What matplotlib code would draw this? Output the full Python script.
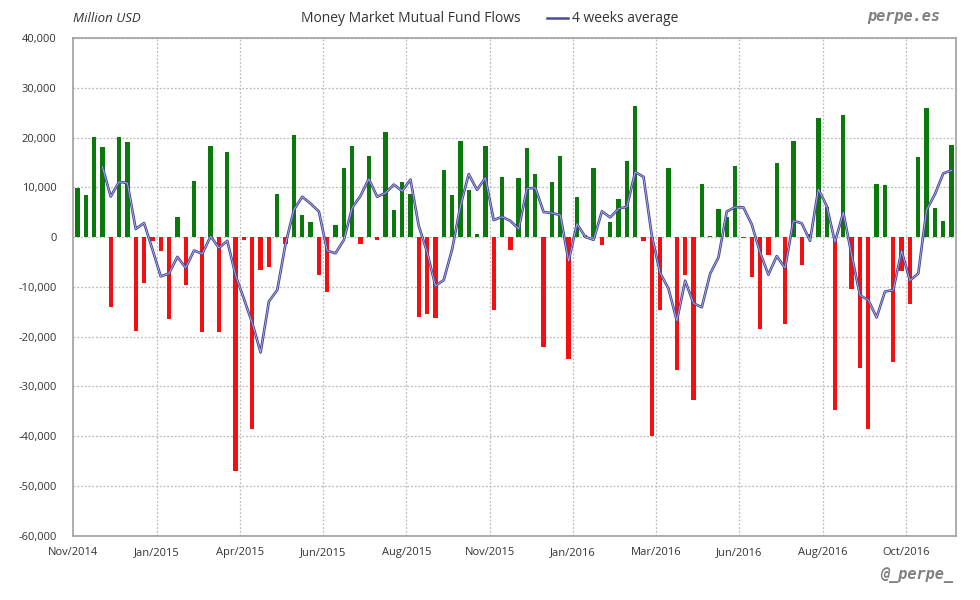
import matplotlib
matplotlib.use("Agg")
import matplotlib.pyplot as plt
from matplotlib.lines import Line2D
from matplotlib.ticker import FuncFormatter, MultipleLocator
import numpy as np
import pandas as pd

# Weekly money market mutual fund flows (Million USD), Nov/2014 - Nov/2016
flows = [
    9800, 8400, 20200, 18000, -14000, 20200, 19200, -18900, -9200, -800,
    -2700, -16500, 4100, -9600, 11200, -19100, 18200, -19100, 17000, -47000,
    -600, -38500, -6600, -6000, 8600, -1300, 20600, 4500, 3100, -7600,
    -11000, 2500, 13800, 18200, -1400, 16200, -600, 21200, 5400, 11000,
    8600, -16100, -15500, -16300, 13400, 8400, 19400, 9400, 700, 18200,
    -14600, 12000, -2600, 11800, 17800, 12600, -22100, 11000, 16200, -24500,
    8000, 500, 13800, -1600, 3100, 7600, 15200, 26400, -800, -39900,
    -14600, 13800, -26700, -7600, -32700, 10600, 200, 5600, 4100, 14200,
    -100, -8000, -18500, -3600, 14800, -17500, 19400, -5600, 700, 24000,
    6000, -34700, 24600, -10400, -26300, -38500, 10600, 10400, -25100, -6800,
    -13400, 16000, 26000, 5800, 3300, 18600,
]
tick_labels = ["Nov/2014", "Jan/2015", "Apr/2015", "Jun/2015", "Aug/2015",
               "Nov/2015", "Jan/2016", "Mar/2016", "Jun/2016", "Aug/2016",
               "Oct/2016"]
tick_every = 10
title = "Money Market Mutual Fund Flows"
avg_label = "4 weeks average"

s = pd.Series(flows, dtype=float)
avg4 = s.rolling(4).mean()
x = np.arange(len(flows))

plt.rcParams['font.family'] = ['Open Sans', 'DejaVu Sans']

fig = plt.figure(figsize=(9.8, 6.0), dpi=100)
ax = fig.add_axes([73.3 / 980, 1 - 535.7 / 600, (955.7 - 73.3) / 980, (535.7 - 38) / 600])

colors = ['#0b780b' if v >= 0 else '#f21010' for v in flows]
ax.bar(x, s.values, width=0.52, color=colors, zorder=2)

ax.plot(x, avg4.values, color='#44449a', lw=1.9, zorder=3, solid_joinstyle='round')
ax.plot(x, avg4.values, color='#b4b4e0', lw=0.6, zorder=4, solid_joinstyle='round')

ax.set_xlim(-0.5, len(flows) - 0.5)
ax.set_ylim(-60000, 40000)
ax.yaxis.set_major_locator(MultipleLocator(10000))
ax.yaxis.set_major_formatter(FuncFormatter(lambda v, p: f"{int(v):,}"))

tpos = [-0.5 + tick_every * i for i in range(len(tick_labels))]
ax.set_xticks(tpos)
ax.set_xticklabels(tick_labels)
ax.tick_params(axis='both', length=0, labelsize=8, colors='#333333')
ax.tick_params(axis='x', pad=8)
ax.tick_params(axis='y', pad=12)

ax.grid(True, axis='y', color='#bbbbbb', ls=(0, (1.5, 1.5)), lw=0.9, zorder=0)
for p in tpos[1:]:
    ax.axvline(p, color='#bbbbbb', ls=(0, (1.5, 1.5)), lw=0.9, zorder=0)
for sp in ax.spines.values():
    sp.set_color('#a0a0a0')
    sp.set_linewidth(1.2)

fig.text(73 / 980, 1 - 18 / 600, "Million USD", fontsize=9.5, style='italic',
         color='#333333', ha='left', va='center')
fig.text(411 / 980, 1 - 18 / 600, title, fontsize=10, color='#333333',
         ha='center', va='center')
fig.add_artist(Line2D([547 / 980, 568 / 980], [1 - 18 / 600, 1 - 18 / 600],
                      color='#4a4a9a', lw=1.8, transform=fig.transFigure))
fig.text(572 / 980, 1 - 18 / 600, avg_label, fontsize=10, color='#333333',
         ha='left', va='center')
fig.text(940 / 980, 1 - 17 / 600, "perpe.es", fontsize=11, color='#808080',
         family='DejaVu Sans Mono', weight='bold', style='italic',
         ha='right', va='center')
fig.text(953 / 980, 1 - 575 / 600, "@_perpe_", fontsize=11, color='#808080',
         family='DejaVu Sans Mono', weight='bold', style='italic',
         ha='right', va='center')

fig.savefig("out.png", dpi=100, facecolor='white')
